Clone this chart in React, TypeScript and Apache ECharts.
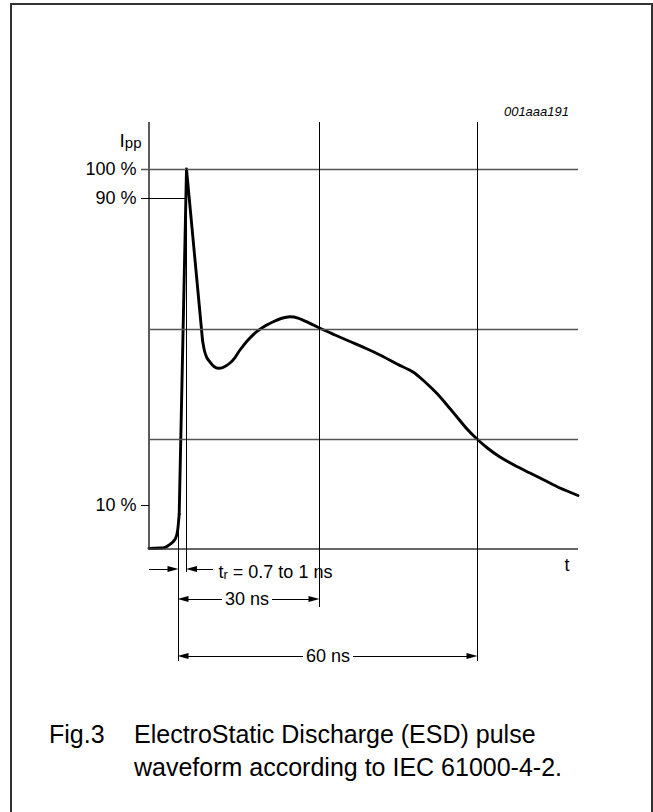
import { useEffect, useRef } from 'react';
import * as echarts from 'echarts';

// Normalised time axis (0 = start of drawing, 100 = right end) and level axis (% of Ipp, schematic).
const pulseFoot: [number, number][] = [
  [0, 0.16], [2.56, 0.26], [3.73, 0.45], [4.5, 0.92], [5.13, 1.45], [5.66, 1.97],
  [6.18, 2.76], [6.46, 3.68], [6.69, 5.0], [6.88, 7.11], [7.04, 9.21],
];
const pulseSpike: [number, number][] = [[7.04, 9.21], [8.74, 100], [12.47, 55.0]];
const pulseTail: [number, number][] = [
  [12.47, 55.0], [12.94, 52.11], [13.52, 50.26], [14.22, 49.21], [15.15, 48.03],
  [16.15, 47.55], [17.25, 47.76], [18.88, 48.95], [20.05, 50.39], [21.21, 52.37],
  [23.08, 55.0], [25.1, 57.18], [27.04, 58.68], [28.97, 59.82], [30.77, 60.66],
  [32.87, 61.13], [34.73, 60.79], [37.53, 59.39], [39.86, 58.08], [43.36, 56.32],
  [46.85, 54.61], [50.35, 52.89], [53.85, 51.05], [57.81, 48.68], [61.54, 46.58],
  [64.34, 43.95], [67.13, 40.92], [69.46, 37.89], [71.79, 34.74], [74.13, 31.58],
  [76.46, 28.95], [79.02, 26.45], [81.82, 24.21], [85.31, 21.97], [88.81, 20.0],
  [92.31, 18.03], [95.8, 16.05], [100, 14.08],
];

const levelValues = [100, 92.37, 11.58];
const levelLabels = ['100 %', '90 %', '10 %'];
const gridLevels = [57.89, 28.95];
const timeMarks = { t10: 6.76, tPeak: 8.74, t30: 39.63, t60: 76.46 };
const spanLabels = ['30 ns', '60 ns'];

// axis extents / layout
const X_MIN = -1.865;
const X_MAX = 100;
const Y_MIN = -31.84;
const Y_MAX = 112.37;
const GRID = { left: 141, top: 122, width: 437, height: 548 };
const PXX = GRID.width / (X_MAX - X_MIN);
const ROW_TR = -5.26;
const ROW_30 = -13.16;
const ROW_60 = -28.16;
const FONT = '"Liberation Sans", Arial, Helvetica, sans-serif';

const thin = { color: '#000', width: 1, type: 'solid' as const };
const grey = { color: '#555', width: 1.4, type: 'solid' as const };
const axisStyle = { color: '#333', width: 1.6, type: 'solid' as const };

function seg(x1: number, y1: number, x2: number, y2: number, style: any) {
  return [
    { coord: [x1, y1], symbol: 'none', lineStyle: style },
    { coord: [x2, y2], symbol: 'none', lineStyle: style },
  ];
}
function arrow(fromX: number, tipX: number, y: number) {
  const dir = tipX > fromX ? 1 : -1;
  const end = tipX - (dir * 5) / PXX;
  return [
    { coord: [fromX, y], symbol: 'none', lineStyle: thin },
    { coord: [end, y], symbol: 'triangle', symbolSize: [6, 11], lineStyle: thin },
  ];
}
function textPoint(x: number, y: number, text: string, position: string, distance: number, extra: any = {}) {
  return {
    coord: [x, y],
    symbol: 'circle',
    symbolSize: 1,
    itemStyle: { color: 'transparent' },
    label: {
      show: true,
      position,
      distance,
      formatter: text,
      color: '#000',
      fontFamily: FONT,
      fontSize: 18,
      ...extra,
    },
  };
}

export default function App() {
  const ref = useRef<HTMLDivElement>(null);
  useEffect(() => {
    document.body.style.margin = '0';
    const chart = echarts.init(ref.current!, null, { renderer: 'svg' });
    const { t10, tPeak, t30, t60 } = timeMarks;
    const px = (p: number) => (p - 149) / PXX; // helper for gap positions near labels

    const gap30 = [px(222), px(272)];
    const gap60 = [px(303), px(353)];

    const markLines: any[] = [
      // axes
      seg(0, 0, X_MAX, 0, axisStyle),
      seg(0, 0, 0, Y_MAX, axisStyle),
      // level lines and ticks
      seg(X_MIN, levelValues[0], X_MAX, levelValues[0], grey),
      seg(X_MIN, levelValues[1], tPeak, levelValues[1], thin),
      seg(X_MIN, levelValues[2], 0, levelValues[2], thin),
      ...gridLevels.map((v) => seg(0, v, X_MAX, v, grey)),
      // time reference lines
      seg(tPeak, 100, tPeak, -6.05, thin),
      seg(t10, levelValues[2], t10, -29.5, thin),
      seg(t30, Y_MAX, t30, -15.26, thin),
      seg(t60, Y_MAX, t60, -29.5, thin),
      // tr arrows
      arrow(0, t10, ROW_TR),
      arrow(px(213), tPeak, ROW_TR),
      // 30 ns
      arrow(gap30[0], t10, ROW_30),
      arrow(gap30[1], t30, ROW_30),
      // 60 ns
      arrow(gap60[0], t10, ROW_60),
      arrow(gap60[1], t60, ROW_60),
    ];

    const markPoints: any[] = [
      ...levelValues.map((v, i) => textPoint(0, v, levelLabels[i], 'left', 12)),
      textPoint(0, 108.16, '{a|I}{s|pp}', 'left', 7, {
        rich: {
          a: { fontFamily: FONT, fontSize: 19, lineHeight: 24, verticalAlign: 'bottom', color: '#000' },
          s: { fontFamily: FONT, fontSize: 15, lineHeight: 15, padding: [10, 0, 0, 0], verticalAlign: 'bottom', color: '#000' },
        },
      }),
      textPoint(px(218), ROW_TR, '{a|t}{s|r}{a| = 0.7 to 1 ns}', 'right', 0, {
        rich: {
          a: { fontFamily: FONT, fontSize: 18, lineHeight: 24, verticalAlign: 'bottom', color: '#000' },
          s: { fontFamily: FONT, fontSize: 13, lineHeight: 14, padding: [11, 0, 0, 0], verticalAlign: 'bottom', color: '#000' },
        },
      }),
      textPoint((gap30[0] + gap30[1]) / 2, ROW_30, spanLabels[0], 'inside', 0),
      textPoint((gap60[0] + gap60[1]) / 2, ROW_60, spanLabels[1], 'inside', 0),
      textPoint(px(567), -4.21, 't', 'inside', 0),
    ];

    const curveStyle = { color: '#000', width: 2.9, cap: 'round', join: 'round' };

    chart.setOption({
      animation: false,
      backgroundColor: '#fff',
      grid: { left: GRID.left, top: GRID.top, width: GRID.width, height: GRID.height },
      xAxis: {
        type: 'value', min: X_MIN, max: X_MAX,
        axisLine: { show: false }, axisTick: { show: false }, axisLabel: { show: false }, splitLine: { show: false },
      },
      yAxis: {
        type: 'value', min: Y_MIN, max: Y_MAX,
        axisLine: { show: false }, axisTick: { show: false }, axisLabel: { show: false }, splitLine: { show: false },
      },
      series: [
        {
          type: 'line', data: pulseFoot, smooth: 0.4, symbol: 'none', lineStyle: curveStyle, z: 3, silent: true,
        },
        {
          type: 'line', data: pulseSpike, smooth: false, symbol: 'none', lineStyle: curveStyle, z: 3, silent: true,
        },
        {
          type: 'line', data: pulseTail, smooth: 0.3, symbol: 'none', lineStyle: curveStyle, z: 3, silent: true,
          markLine: {
            silent: true, symbol: ['none', 'none'], label: { show: false }, animation: false,
            data: markLines,
          },
          markPoint: { silent: true, animation: false, data: markPoints },
        },
      ],
      graphic: [
        {
          type: 'rect', shape: { x: 11, y: 4, width: 641, height: 840 },
          style: { fill: 'none', stroke: '#333', lineWidth: 2 }, silent: true,
        },
        {
          type: 'text', x: 569, y: 111,
          style: { text: '001aaa191', font: `italic 13px ${FONT}`, fill: '#000', align: 'right', verticalAlign: 'middle' },
        },
        {
          type: 'text', x: 49, y: 734,
          style: { text: 'Fig.3', font: `25px ${FONT}`, fill: '#000', align: 'left', verticalAlign: 'middle' },
        },
        {
          type: 'text', x: 134, y: 734,
          style: { text: 'ElectroStatic Discharge (ESD) pulse', font: `25px ${FONT}`, fill: '#000', align: 'left', verticalAlign: 'middle' },
        },
        {
          type: 'text', x: 134, y: 767,
          style: { text: 'waveform according to IEC 61000-4-2.', font: `25px ${FONT}`, fill: '#000', align: 'left', verticalAlign: 'middle' },
        },
      ],
    });
    return () => chart.dispose();
  }, []);
  return <div ref={ref} style={{ width: 653, height: 812 }} />;
}
